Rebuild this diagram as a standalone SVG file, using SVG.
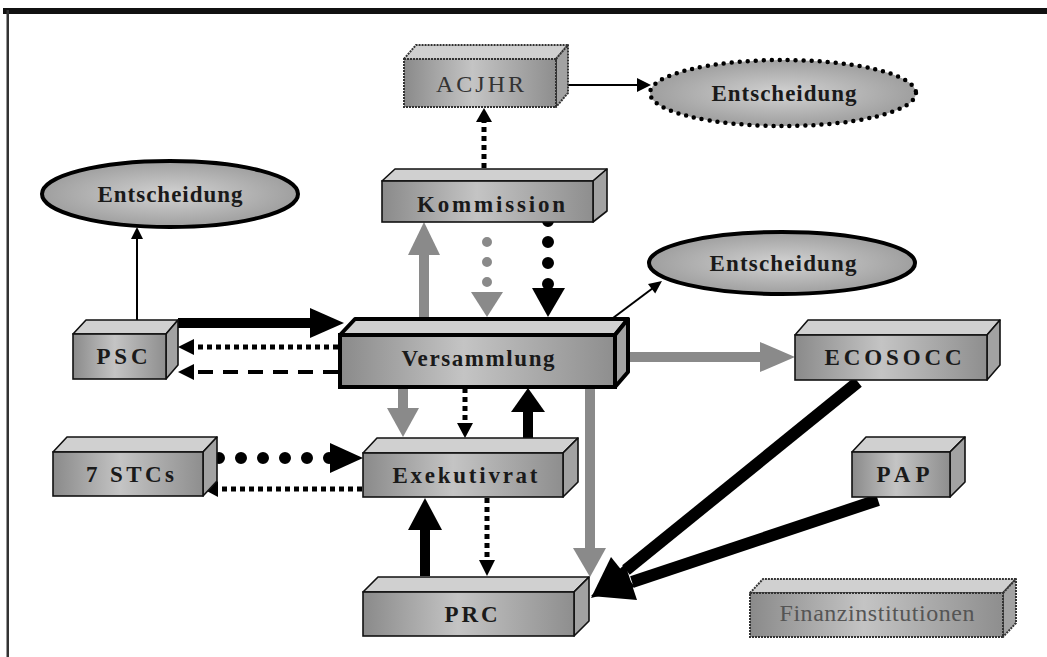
<svg xmlns="http://www.w3.org/2000/svg" width="1047" height="657" viewBox="0 0 1047 657">
<defs>
<linearGradient id="gFront" x1="0" y1="0" x2="1" y2="0">
<stop offset="0" stop-color="#8a8a8a"/>
<stop offset="0.45" stop-color="#c4c4c4"/>
<stop offset="1" stop-color="#8e8e8e"/>
</linearGradient>
<radialGradient id="gEll" cx="0.5" cy="0.5" r="0.55">
<stop offset="0" stop-color="#d2d2d2"/>
<stop offset="1" stop-color="#9a9a9a"/>
</radialGradient>
<style>
.front{fill:url(#gFront);stroke:#111;stroke-width:1.6}
.top{fill:#d0d0d0;stroke:#111;stroke-width:1.6;stroke-linejoin:round}
.side{fill:#a2a2a2;stroke:#111;stroke-width:1.6;stroke-linejoin:round}
.dot .front,.dot .top,.dot .side{stroke:#333;stroke-width:2;stroke-dasharray:2 1}
.thick .front,.thick .top,.thick .side{stroke:#000;stroke-width:4}
.lbl{font-family:"Liberation Serif","Times New Roman",serif;font-weight:bold;font-size:23px;fill:#1a1a1a;text-anchor:middle}
.lblr{font-family:"Liberation Serif","Times New Roman",serif;font-size:24px;text-anchor:middle}
.ell{fill:url(#gEll);stroke:#000;stroke-width:4}
.thin{stroke:#000;stroke-width:2;fill:none}
.sq{stroke:#000;stroke-width:5;stroke-dasharray:5 4;fill:none}
.gray{stroke:#8a8a8a;stroke-width:10;fill:none}
.blk{stroke:#000;stroke-width:10;fill:none}
.rd{stroke-linecap:round;fill:none}
.hg{fill:#8a8a8a}
.hb{fill:#000}
</style>
</defs>
<rect width="1047" height="657" fill="#fff"/>
<rect x="3" y="8" width="1044" height="6" fill="#111"/>
<rect x="6.5" y="10" width="2.5" height="647" fill="#333"/>

<g id="connectors">
<line class="thin" x1="568" y1="85" x2="640" y2="85"/>
<polygon class="hb" points="637,78 651,85 637,92"/>
<line class="sq" x1="484" y1="168" x2="484" y2="120"/>
<polygon class="hb" points="476,122 492,122 484,108"/>
<line class="thin" x1="137" y1="320" x2="137" y2="237"/>
<polygon class="hb" points="131,239 143,239 137,227"/>
<line class="blk" x1="178" y1="323" x2="314" y2="323"/>
<polygon class="hb" points="310,308 344,323 310,338"/>
<line class="sq" x1="338" y1="347" x2="192" y2="347"/>
<polygon class="hb" points="194,339 194,355 178,347"/>
<line stroke="#000" stroke-width="4" stroke-dasharray="15 10" x1="338" y1="372" x2="192" y2="372"/>
<polygon class="hb" points="194,364 194,380 178,372"/>
<line class="gray" x1="424" y1="319" x2="424" y2="252"/>
<polygon class="hg" points="408,255 440,255 424,222"/>
<line class="rd" stroke="#8a8a8a" stroke-width="10" stroke-dasharray="0 20" x1="487" y1="242" x2="487" y2="283"/>
<polygon class="hg" points="471,292 503,292 487,317"/>
<line class="rd" stroke="#000" stroke-width="12" stroke-dasharray="0 21" x1="548" y1="221" x2="548" y2="285"/>
<polygon class="hb" points="532,288 565,288 548,317"/>
<line class="thin" x1="613" y1="318" x2="653" y2="288"/>
<polygon class="hb" points="655.2,293.6 648,284 662,281"/>
<line class="gray" x1="628" y1="357" x2="764" y2="357"/>
<polygon class="hg" points="760,342 795,357 760,372"/>
<line class="gray" x1="403" y1="388" x2="403" y2="412"/>
<polygon class="hg" points="387,408 419,408 403,437"/>
<line class="sq" stroke-width="4" x1="465" y1="388" x2="465" y2="424"/>
<polygon class="hb" points="457,423 473,423 465,438"/>
<line class="blk" x1="528" y1="438" x2="528" y2="408"/>
<polygon class="hb" points="511,412 545,412 528,388"/>
<line class="gray" x1="590" y1="388" x2="590" y2="552"/>
<polygon class="hg" points="573,548 606,548 590,577"/>
<line class="blk" x1="425" y1="576" x2="425" y2="526"/>
<polygon class="hb" points="408,530 442,530 425,498"/>
<line class="sq" stroke-width="4" x1="487" y1="498" x2="487" y2="562"/>
<polygon class="hb" points="479,560 495,560 487,576"/>
<line class="rd" stroke="#000" stroke-width="12" stroke-dasharray="0 22" x1="219" y1="458" x2="330" y2="458"/>
<polygon class="hb" points="330,443 363,458 330,473"/>
<line class="sq" x1="362" y1="489" x2="216" y2="489"/>
<polygon class="hb" points="218,481 218,497 203,489"/>
<line stroke="#000" stroke-width="12" x1="858" y1="382" x2="626" y2="570"/>
<polygon class="hb" points="635,587 611,557 591,598"/>
<line stroke="#000" stroke-width="12" x1="878" y1="500" x2="632" y2="582"/>
<polygon class="hb" points="637,600 625,564 591,596"/>
</g>

<g id="n-acjhr" class="dot">
<polygon class="top" points="404,59 416,45 568,45 556,59"/>
<polygon class="side" points="556,59 568,45 568,93 556,107"/>
<rect class="front" x="404" y="59" width="152" height="48"/>
<text class="lblr" x="480" y="92" fill="#333" textLength="88" lengthAdjust="spacing">ACJHR</text>
</g>

<g id="n-ent-top">
<ellipse cx="783" cy="93" rx="133" ry="33" fill="url(#gEll)" stroke="#000" stroke-width="4.5" stroke-dasharray="0 8" stroke-linecap="round"/>
<text class="lbl" x="784" y="101" textLength="145" lengthAdjust="spacing">Entscheidung</text>
</g>

<g id="n-ent-left">
<ellipse class="ell" cx="170" cy="194" rx="128" ry="33"/>
<text class="lbl" x="170" y="202" textLength="145" lengthAdjust="spacing">Entscheidung</text>
</g>

<g id="n-kommission">
<polygon class="top" points="382,181 395,169 607,169 593,181"/>
<polygon class="side" points="593,181 607,169 607,211 593,222"/>
<rect class="front" x="382" y="181" width="211" height="41"/>
<text class="lbl" x="491" y="212" textLength="148" lengthAdjust="spacing">Kommission</text>
</g>

<g id="n-ent-mid">
<ellipse class="ell" cx="782" cy="263" rx="133" ry="31"/>
<text class="lbl" x="783" y="271" textLength="147" lengthAdjust="spacing">Entscheidung</text>
</g>

<g id="n-psc">
<polygon class="top" points="73,334 86,320 178,320 166,334"/>
<polygon class="side" points="166,334 178,320 178,365 166,379"/>
<rect class="front" x="73" y="334" width="93" height="45"/>
<text class="lbl" x="122" y="364" textLength="51" lengthAdjust="spacing">PSC</text>
</g>

<g id="n-versammlung" class="thick">
<polygon class="top" points="340,335 355,319 628,319 615,335"/>
<polygon class="side" points="615,335 628,319 628,372 615,387"/>
<rect class="front" x="340" y="335" width="275" height="52"/>
<text class="lbl" x="478" y="366" textLength="153" lengthAdjust="spacing">Versammlung</text>
</g>

<g id="n-ecosocc">
<polygon class="top" points="795,335 808,320 1000,320 987,335"/>
<polygon class="side" points="987,335 1000,320 1000,365 987,380"/>
<rect class="front" x="795" y="335" width="192" height="45"/>
<text class="lbl" x="893" y="365" textLength="137" lengthAdjust="spacing">ECOSOCC</text>
</g>

<g id="n-stcs">
<polygon class="top" points="53,452 67,437 217,437 203,452"/>
<polygon class="side" points="203,452 217,437 217,481 203,496"/>
<rect class="front" x="53" y="452" width="150" height="44"/>
<text class="lbl" x="130" y="482" textLength="88" lengthAdjust="spacing">7 STCs</text>
</g>

<g id="n-exekutivrat">
<polygon class="top" points="363,453 377,438 578,438 563,453"/>
<polygon class="side" points="563,453 578,438 578,482 563,497"/>
<rect class="front" x="363" y="453" width="200" height="44"/>
<text class="lbl" x="465" y="483" textLength="145" lengthAdjust="spacing">Exekutivrat</text>
</g>

<g id="n-pap">
<polygon class="top" points="852,452 866,437 965,437 950,452"/>
<polygon class="side" points="950,452 965,437 965,482 950,497"/>
<rect class="front" x="852" y="452" width="98" height="45"/>
<text class="lbl" x="903" y="482" textLength="53" lengthAdjust="spacing">PAP</text>
</g>

<g id="n-prc">
<polygon class="top" points="363,592 378,577 589,577 574,592"/>
<polygon class="side" points="574,592 589,577 589,621 574,636"/>
<rect class="front" x="363" y="592" width="211" height="44"/>
<text class="lbl" x="471" y="622" textLength="53" lengthAdjust="spacing">PRC</text>
</g>

<g id="n-finanz" class="dot">
<polygon class="top" points="750,593 763,579 1016,579 1003,593"/>
<polygon class="side" points="1003,593 1016,579 1016,623 1003,637"/>
<rect class="front" x="750" y="593" width="253" height="44"/>
<text class="lblr" x="877" y="621" font-size="22" fill="#555" textLength="195" lengthAdjust="spacing">Finanzinstitutionen</text>
</g>
</svg>
